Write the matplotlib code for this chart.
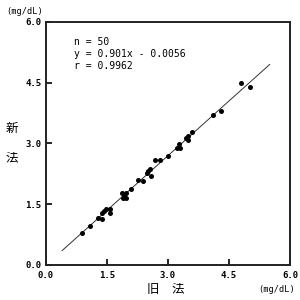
import matplotlib
matplotlib.use("Agg")
import matplotlib.pyplot as plt
import numpy as np

old_method = [0.89, 1.08, 1.27, 1.38, 1.38, 1.48, 1.57, 1.58, 1.88, 1.96,
              1.89, 1.96, 2.09, 2.27, 2.39, 2.49, 2.56, 2.59, 2.69, 2.80,
              3.01, 3.21, 3.28, 3.29, 3.50, 3.50, 3.60, 4.11, 4.30, 4.79,
              5.02, 1.92, 2.52, 3.45, 1.43]
new_method = [0.79, 0.96, 1.17, 1.14, 1.28, 1.38, 1.38, 1.28, 1.77, 1.77,
              1.66, 1.66, 1.88, 2.10, 2.07, 2.28, 2.36, 2.20, 2.59, 2.59,
              2.70, 2.88, 2.98, 2.88, 3.19, 3.09, 3.28, 3.69, 3.80, 4.50,
              4.40, 1.72, 2.31, 3.14, 1.33]
slope, intercept = 0.901, -0.0056
fit_x = [0.4, 5.5]
ticks = [0.0, 1.5, 3.0, 4.5, 6.0]
tick_labels = ["0.0", "1.5", "3.0", "4.5", "6.0"]
stats_text = "n = 50\ny = 0.901x - 0.0056\nr = 0.9962"

mono = "DejaVu Sans Mono"
jp = ["Noto Sans CJK JP", "DejaVu Sans"]

fig = plt.figure(figsize=(3, 3), dpi=100)
ax = fig.add_axes([0.153, 0.117, 0.814, 0.81])
ax.set_xlim(0, 6)
ax.set_ylim(0, 6)

fx = np.array(fit_x)
ax.plot(fx, slope * fx + intercept, color="#333333", lw=0.7, zorder=2)
ax.scatter(old_method, new_method, s=13, color="black", zorder=3, linewidths=0)

ax.set_xticks(ticks)
ax.set_yticks(ticks)
ax.set_xticklabels(tick_labels, fontfamily=mono, fontsize=6.5, fontweight="bold")
ax.set_yticklabels(tick_labels, fontfamily=mono, fontsize=6.5, fontweight="bold")
ax.tick_params(direction="in", length=4, width=1.2, pad=3, colors="black")
ax.tick_params(axis="x", pad=4.5)
for sp in ax.spines.values():
    sp.set_linewidth(1.4)
    sp.set_color("#222222")

ax.text(0.69, 5.63, stats_text, fontfamily=mono, fontsize=7, va="top", ha="left",
        linespacing=1.25)

fig.text(12 / 300, 1 - 128 / 300, "新", fontfamily=jp, fontsize=9, ha="center", va="center")
fig.text(12 / 300, 1 - 158 / 300, "法", fontfamily=jp, fontsize=9, ha="center", va="center")
fig.text(166 / 300, 1 - 290 / 300, "旧　法", fontfamily=jp, fontsize=9, ha="center", va="center")
fig.text(25 / 300, 1 - 11 / 300, "(mg/dL)", fontfamily=mono, fontsize=6.2, ha="center", va="center")
fig.text(277 / 300, 1 - 290 / 300, "(mg/dL)", fontfamily=mono, fontsize=6.2, ha="center", va="center")

fig.savefig("out.png", dpi=100, facecolor="white")
